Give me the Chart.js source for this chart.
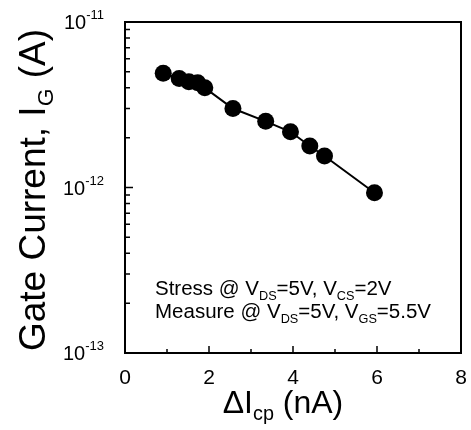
<!DOCTYPE html>
<html><head><meta charset="utf-8">
<script src="https://cdn.jsdelivr.net/npm/chart.js@4.4.1/dist/chart.umd.min.js"></script>
<style>html,body{margin:0;padding:0;background:#fff;}#wrap{width:471px;height:430px;}</style>
</head><body><div id="wrap"><canvas id="c" width="471" height="430"></canvas></div>
<script>
const deltaIcp = [0.91, 1.29, 1.52, 1.73, 1.90, 2.57, 3.35, 3.94, 4.40, 4.75, 5.94];
const gateCurrent = [4.9e-12, 4.56e-12, 4.35e-12, 4.29e-12, 4.0e-12, 3.0e-12, 2.51e-12, 2.17e-12, 1.78e-12, 1.55e-12, 0.93e-12];
const xTickValues = [0, 2, 4, 6, 8];
const xMinorValues = [1, 3, 5, 7];
const yDecades = [1e-11, 1e-12, 1e-13];
const yExponents = ['-11', '-12', '-13'];

const FONT = '"Liberation Sans", Arial, Helvetica, sans-serif';

function drawRuns(ctx, runs, x, y, size, align) {
  const parts = runs.map(r => {
    const s = r.mode ? size * 0.62 : size;
    ctx.font = s + 'px ' + FONT;
    return {t: r.t, s, w: ctx.measureText(r.t).width, mode: r.mode};
  });
  const total = parts.reduce((a, p) => a + p.w, 0);
  let cx = align === 'center' ? x - total / 2 : align === 'right' ? x - total : x;
  ctx.textAlign = 'left';
  ctx.textBaseline = 'alphabetic';
  for (const p of parts) {
    ctx.font = p.s + 'px ' + FONT;
    let dy = 0;
    if (p.mode === 'sub') dy = size * 0.22;
    if (p.mode === 'sup') dy = -size * 0.45;
    ctx.fillText(p.t, cx, y + dy);
    cx += p.w;
  }
  return total;
}

const decor = {
  id: 'decor',
  afterDraw(chart) {
    const ctx = chart.ctx;
    const a = chart.chartArea;
    const xs = chart.scales.x, ys = chart.scales.y;
    ctx.save();
    ctx.strokeStyle = '#000';
    ctx.fillStyle = '#000';
    ctx.lineWidth = 2;
    ctx.strokeRect(a.left, a.top, a.right - a.left, a.bottom - a.top);
    ctx.lineWidth = 1.5;
    ctx.beginPath();
    xTickValues.forEach(v => { const px = xs.getPixelForValue(v); ctx.moveTo(px, a.bottom); ctx.lineTo(px, a.bottom - 7); });
    xMinorValues.forEach(v => { const px = xs.getPixelForValue(v); ctx.moveTo(px, a.bottom); ctx.lineTo(px, a.bottom - 4); });
    yDecades.forEach(v => { const py = ys.getPixelForValue(v); ctx.moveTo(a.left, py); ctx.lineTo(a.left + 8, py); });
    [1e-13, 1e-12].forEach(d => {
      for (let m = 2; m <= 9; m++) { const py = ys.getPixelForValue(d * m); ctx.moveTo(a.left, py); ctx.lineTo(a.left + 5, py); }
    });
    ctx.stroke();
    ctx.font = '21px ' + FONT;
    ctx.textAlign = 'center';
    ctx.textBaseline = 'alphabetic';
    xTickValues.forEach(v => ctx.fillText(String(v), xs.getPixelForValue(v), 384));
    yDecades.forEach((v, i) => {
      const py = ys.getPixelForValue(v);
      ctx.font = '20px ' + FONT;
      const w10 = ctx.measureText('10').width;
      ctx.font = '13px ' + FONT;
      const we = ctx.measureText(yExponents[i]).width;
      const right = 104;
      ctx.textAlign = 'left';
      ctx.font = '20px ' + FONT;
      ctx.fillText('10', right - we - w10, py + 7);
      ctx.font = '13px ' + FONT;
      ctx.fillText(yExponents[i], right - we, py - 3);
    });
    drawRuns(ctx, [{t: 'ΔI'}, {t: 'cp', mode: 'sub'}, {t: ' (nA)'}], 283, 413, 32, 'center');
    ctx.save();
    ctx.translate(45, 190);
    ctx.rotate(-Math.PI / 2);
    drawRuns(ctx, [{t: 'Gate Current, I'}, {t: 'G', mode: 'sub'}, {t: ' (A)'}], 0, 0, 37, 'center');
    ctx.restore();
    drawRuns(ctx, [{t: 'Stress @ V'}, {t: 'DS', mode: 'sub'}, {t: '=5V, V'}, {t: 'CS', mode: 'sub'}, {t: '=2V'}], 155, 295, 20.5, 'left');
    drawRuns(ctx, [{t: 'Measure @ V'}, {t: 'DS', mode: 'sub'}, {t: '=5V, V'}, {t: 'GS', mode: 'sub'}, {t: '=5.5V'}], 155, 318, 20.5, 'left');
    ctx.restore();
  }
};

new Chart(document.getElementById('c'), {
  type: 'scatter',
  data: {
    datasets: [{
      data: deltaIcp.map((x, i) => ({x, y: gateCurrent[i]})),
      showLine: true,
      borderColor: '#000',
      borderWidth: 2,
      backgroundColor: '#000',
      pointBackgroundColor: '#000',
      pointBorderColor: '#000',
      pointRadius: 8.5,
      pointBorderWidth: 0,
      tension: 0
    }]
  },
  options: {
    responsive: false,
    animation: false,
    devicePixelRatio: 1,
    layout: {padding: {left: 125, right: 10, top: 22, bottom: 77}},
    plugins: {legend: {display: false}, tooltip: {enabled: false}},
    scales: {
      x: {type: 'linear', min: 0, max: 8, ticks: {display: false, padding: 0}, grid: {display: false, drawTicks: false}, border: {display: false}},
      y: {type: 'logarithmic', min: 1e-13, max: 1e-11, ticks: {display: false, padding: 0}, grid: {display: false, drawTicks: false}, border: {display: false}}
    }
  },
  plugins: [decor]
});
</script></body></html>
